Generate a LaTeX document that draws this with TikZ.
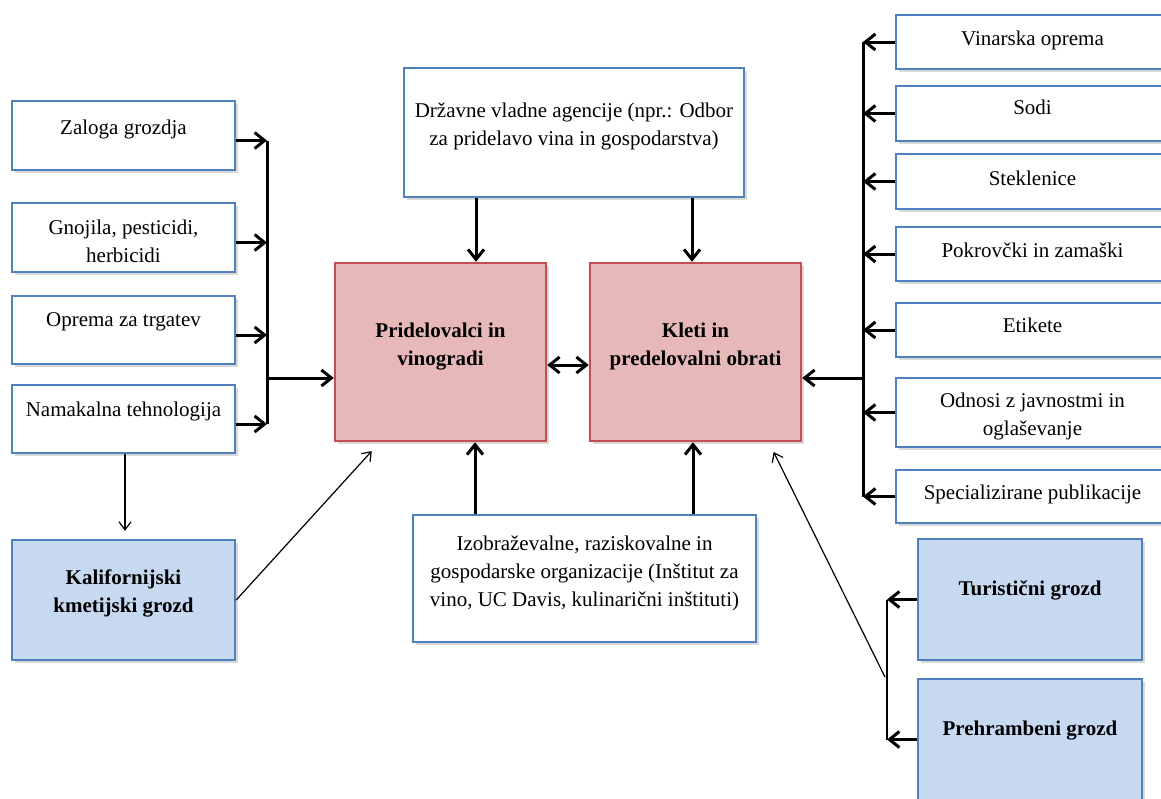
\documentclass[tikz,border=0pt]{standalone}
\usepackage{fontspec}
\setmainfont{Liberation Serif}
\usetikzlibrary{arrows.meta,shadows}

\definecolor{boxline}{HTML}{4F81BD}
\definecolor{coreline}{HTML}{C0504D}
\definecolor{corefill}{HTML}{E6B9B8}
\definecolor{clusterfill}{HTML}{C6D9F1}
\newcommand{\boxfont}{\fontsize{10.5}{14}\selectfont}

\tikzset{
  panel/.style n args={3}{inner sep=0pt,
    execute at begin node={\begin{minipage}[c][#2][t]{#1}\centering\vspace*{#3}},
    execute at end node={\end{minipage}}},
  shade/.style={drop shadow={shadow xshift=1.5pt,shadow yshift=-1.5pt,opacity=0.3}},
  supplier/.style={draw=boxline,line width=1.2pt,fill=white,font=\boxfont,shade},
  core/.style={draw=coreline,line width=1.2pt,fill=corefill,font=\boxfont\bfseries,shade},
  cluster/.style={draw=boxline,line width=1.2pt,fill=clusterfill,font=\boxfont\bfseries,shade},
  flow/.style={line width=1.5pt,->},
  link/.style={line width=0.6pt,-{Straight Barb[length=4pt,width=6pt]}},
}

\begin{document}
\begin{tikzpicture}[x=0.5pt,y=-0.5pt,>={Straight Barb[length=5pt,width=8pt]}] % wine cluster
  \useasboundingbox (0,0) rectangle (1161,798);
  % left column
  \node[supplier,panel={111.5pt}{34.5pt}{9.5pt}] (zaloga) at (123.5,135.5) {Zaloga grozdja};
  \node[supplier,panel={111.5pt}{34.5pt}{8.5pt}] (gnojila) at (123.5,237.5) {Gnojila, pesticidi,\\herbicidi};
  \node[supplier,panel={111.5pt}{34pt}{8.5pt}] (oprema) at (123.5,330) {Oprema za trgatev};
  \node[supplier,panel={111.5pt}{34pt}{8.5pt}] (namakalna) at (123.5,419) {Namakalna tehnologija};
  \node[cluster,panel={111.5pt}{60pt}{15pt}] (kalif) at (123.5,600) {Kalifornijski\\kmetijski grozd};
  % middle
  \node[core,panel={105.5pt}{89pt}{30pt}] (prid) at (440.5,352) {Pridelovalci in\\vinogradi};
  \node[core,panel={105.5pt}{89pt}{30pt}] (kleti) at (695.5,352) {Kleti in\\predelovalni obrati};
  \node[supplier,panel={170pt}{64.5pt}{17.5pt}] (drzavne) at (574,132.5) {Državne vladne agencije (npr.: Odbor\\za pridelavo vina in gospodarstva)};
  \node[supplier,panel={171.5pt}{63.5pt}{10.5pt}] (izobr) at (584.5,578.5) {Izobraževalne, raziskovalne in\\gospodarske organizacije (Inštitut za\\vino, UC Davis, kulinarični inštituti)};
  % right column
  \node[supplier,panel={136.5pt}{27pt}{8pt}] (vinarska) at (1032.5,42) {Vinarska oprema};
  \node[supplier,panel={136.5pt}{27.5pt}{7pt}] (sodi) at (1032.5,113.5) {Sodi};
  \node[supplier,panel={136.5pt}{27.5pt}{8.5pt}] (steklenice) at (1032.5,181.5) {Steklenice};
  \node[supplier,panel={136.5pt}{27pt}{8pt}] (pokrovcki) at (1032.5,254) {Pokrovčki in zamaški};
  \node[supplier,panel={136.5pt}{27pt}{7.5pt}] (etikete) at (1032.5,330) {Etikete};
  \node[supplier,panel={136.5pt}{34.5pt}{7.5pt}] (odnosi) at (1032.5,412.5) {Odnosi z javnostmi in\\oglaševanje};
  \node[supplier,panel={136.5pt}{26.5pt}{7.5pt}] (special) at (1032.5,496.5) {Specializirane publikacije};
  \node[cluster,panel={112pt}{60.5pt}{21pt}] (turist) at (1030,599.5) {Turistični grozd};
  \node[cluster,panel={112pt}{60.5pt}{21pt}] (prehr) at (1030,739.5) {Prehrambeni grozd};

  \coordinate (lbus) at (267,378);
  \coordinate (rbus) at (863,378);
  \coordinate (rfork) at (887,677);

  % left inputs
  \foreach \n in {zaloga,gnojila,oprema,namakalna}
    \draw[flow] ([yshift=-2.5pt]\n.east) -- ([yshift=-2.5pt]\n.east -| lbus);
  \draw[line width=1.5pt] ([yshift=-2.5pt]zaloga.east -| lbus) -- ([yshift=-2.5pt]namakalna.east -| lbus);
  \draw[flow] (lbus) -- (lbus -| prid.west);
  % right inputs
  \foreach \n in {vinarska,sodi,steklenice,pokrovcki,etikete,odnosi,special}
    \draw[flow] (\n.west) -- (\n.west -| rbus);
  \draw[line width=1.5pt] (vinarska.west -| rbus) -- (special.west -| rbus);
  \draw[flow] (rbus) -- (rbus -| kleti.east);
  % middle
  \draw[flow,<->] ([yshift=-6.5pt]prid.east) -- ([yshift=-6.5pt]kleti.west);
  \draw[flow] ([xshift=17.75pt]prid.north |- drzavne.south) -- ([xshift=17.75pt]prid.north);
  \draw[flow] ([xshift=-1.75pt]kleti.north |- drzavne.south) -- ([xshift=-1.75pt]kleti.north);
  \draw[flow] ([xshift=17.25pt]prid.south |- izobr.north) -- ([xshift=17.25pt]prid.south);
  \draw[flow] ([xshift=-1.25pt]kleti.south |- izobr.north) -- ([xshift=-1.25pt]kleti.south);
  % clusters
  \draw[link,shorten >=4pt] ([xshift=0.75pt]namakalna.south) -- ([xshift=0.75pt]kalif.north);
  \draw[link,shorten >=6pt] (kalif.east) -- ([xshift=23pt]prid.south west);
  \draw[flow] (turist.west) -- (turist.west -| rfork);
  \draw[flow] (prehr.west) -- (prehr.west -| rfork);
  \draw[line width=0.8pt] (turist.west -| rfork) -- (prehr.west -| rfork);
  \draw[link,shorten >=5.5pt] ([xshift=-1pt]rfork) -- ([xshift=90pt]kleti.south west);
\end{tikzpicture}
\end{document}
